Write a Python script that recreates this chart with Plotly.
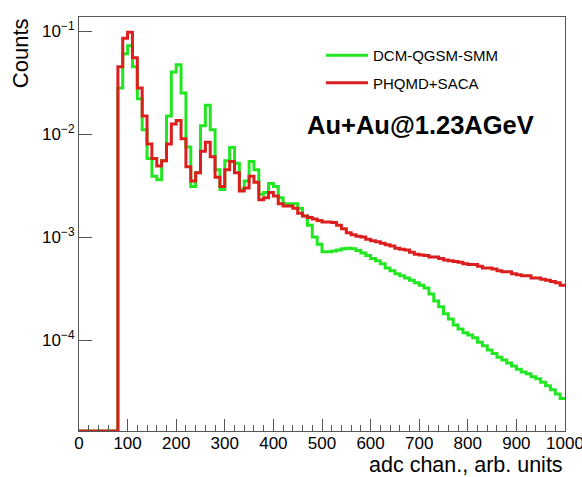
import numpy as np
import plotly.graph_objects as go

# ---- data: 10-unit bins from 0 to 1000 (left edges) ----
bin_width = 10
bin_edges = list(range(0, 1001, bin_width))

dcm_qgsm_smm = [
    0, 0, 0, 0, 0, 0, 0, 0,
    0.028, 0.060, 0.072, 0.045, 0.022, 0.011, 0.0058, 0.0039, 0.0036, 0.0055, 0.015, 0.040,
    0.047, 0.025, 0.0075, 0.0031, 0.0042, 0.012, 0.019, 0.011, 0.0045, 0.0029,
    0.0055, 0.0074, 0.0052, 0.0029, 0.0035, 0.0054, 0.0045, 0.0026, 0.0027, 0.0033,
    0.0031, 0.0024, 0.0021, 0.0021, 0.0021, 0.0019, 0.0016, 0.0013, 0.0010, 0.00085,
    0.00072, 0.00072, 0.00073, 0.00075, 0.00077, 0.00078, 0.00077, 0.00074, 0.00070, 0.00066,
    0.00062, 0.00059, 0.00055, 0.00050, 0.00047, 0.00044, 0.00042, 0.00040, 0.00038, 0.00036,
    0.00034, 0.00032, 0.00028, 0.00024, 0.00021, 0.00018, 0.00016, 0.00014, 0.000128, 0.000118,
    0.000112, 0.000105, 0.000095, 0.000088, 0.000080, 0.000074, 0.000068, 0.000064, 0.000060, 0.000056,
    0.000052, 0.000049, 0.000047, 0.000044, 0.000042, 0.000039, 0.000036, 0.000033, 0.000030, 0.000027,
]

phqmd_saca = [
    0, 0, 0, 0, 0, 0, 0, 0,
    0.045, 0.085, 0.097, 0.055, 0.028, 0.015, 0.0080, 0.0058, 0.0049, 0.0055, 0.0080, 0.0125,
    0.0135, 0.0090, 0.0048, 0.0035, 0.0042, 0.0068, 0.0083, 0.0060, 0.0038, 0.0031,
    0.0045, 0.0054, 0.0042, 0.0028, 0.0030, 0.0039, 0.0034, 0.0023, 0.0024, 0.0027,
    0.0025, 0.0021, 0.0020, 0.0020, 0.0019, 0.0017, 0.0016, 0.00155, 0.0015, 0.00145,
    0.0014, 0.0014, 0.00138, 0.0013, 0.0012, 0.0011, 0.00105, 0.00102, 0.0010, 0.00095,
    0.00092, 0.00090, 0.00087, 0.00084, 0.00082, 0.00078, 0.00076, 0.00075, 0.00071, 0.00068,
    0.00067, 0.00066, 0.00064, 0.00064, 0.00062, 0.00060, 0.00059, 0.00058, 0.00057, 0.00055,
    0.00054, 0.00054, 0.00052, 0.00050, 0.00050, 0.00049, 0.00047, 0.00046, 0.00046, 0.00044,
    0.00043, 0.00042, 0.00042, 0.00040, 0.00040, 0.00039, 0.00038, 0.00037, 0.00036, 0.00034,
]

series_names = ["DCM-QGSM-SMM", "PHQMD+SACA"]
series_colors = ["#22e622", "#dc1e1e"]

x_tick_vals = list(range(0, 1001, 100))
x_tick_text = [str(v) for v in x_tick_vals]
y_range_log = [-4.883, -0.864]
y_major = [1e-4, 1e-3, 1e-2, 1e-1]
y_major_text = ["10<sup>−4</sup>", "10<sup>−3</sup>", "10<sup>−2</sup>", "10<sup>−1</sup>"]
y_minor = [m * 10.0 ** e for e in range(-5, 0) for m in range(2, 10)]
y_minor = [v for v in y_minor if 10 ** y_range_log[0] <= v <= 10 ** y_range_log[1]]

floor_val = 10 ** y_range_log[0]


def step_xy(vals):
    xs = list(bin_edges)
    ys = [v if v > 0 else floor_val for v in vals] + [vals[-1] if vals[-1] > 0 else floor_val]
    return xs, ys


fig = go.Figure()
for i, (name, vals, col) in enumerate(zip(series_names, [dcm_qgsm_smm, phqmd_saca], series_colors)):
    xs, ys = step_xy(vals)
    fig.add_trace(go.Scatter(
        x=xs, y=ys, mode="lines", name=name, line=dict(color=col, width=3, shape="hv"),
        legendgroup=f"g{i}", showlegend=True,
    ))

axis_col = "#555555"
fig.update_layout(
    width=582, height=477,
    margin=dict(l=79, r=17, t=17, b=46, autoexpand=False),
    paper_bgcolor="white", plot_bgcolor="white",
    font=dict(family="Liberation Sans, Arial, sans-serif", color="black", size=17),
    showlegend=True,
    legend=dict(x=0.498, y=0.947, xanchor="left", yanchor="top", bgcolor="rgba(0,0,0,0)",
                font=dict(size=15), tracegroupgap=5, itemwidth=42),
    xaxis=dict(
        range=[-0.01, 1000.01], tickmode="array", tickvals=x_tick_vals, ticktext=x_tick_text,
        ticks="inside", ticklen=12, tickcolor=axis_col, ticklabeloverflow="allow", automargin=False,
        ticklabelstandoff=-3,
        showline=True, linecolor=axis_col, linewidth=1, mirror=True, showgrid=False, zeroline=False,
        minor=dict(dtick=20, ticks="inside", ticklen=6, tickcolor=axis_col, showgrid=False),
        tickfont=dict(size=17),
    ),
    yaxis=dict(
        type="log", range=y_range_log, tickmode="array", tickvals=y_major, ticktext=y_major_text,
        ticks="inside", ticklen=13, tickcolor=axis_col, automargin=False,
        showline=True, linecolor=axis_col, linewidth=1, mirror=True, showgrid=False, zeroline=False,
        tickfont=dict(size=17),
    ),
    yaxis2=dict(
        type="log", range=y_range_log, tickmode="array", tickvals=y_minor, ticks="inside", ticklen=7,
        tickcolor=axis_col, showticklabels=False, overlaying="y", anchor="x", side="left",
        showgrid=False, zeroline=False, showline=False, automargin=False,
    ),
)

fig.add_annotation(text="<b>Au+Au@1.23AGeV</b>", xref="paper", yref="paper",
                   x=0.465, y=0.739, xanchor="left", yanchor="middle", showarrow=False,
                   font=dict(size=25.5, color="black"))
fig.add_annotation(text="Counts", xref="paper", yref="paper", textangle=-90,
                   x=-0.121, y=0.913, xanchor="center", yanchor="middle", showarrow=False,
                   font=dict(size=22, color="black"))
fig.add_annotation(text="adc chan., arb. units", xref="paper", yref="paper",
                   x=1.0, y=-0.082, xanchor="right", yanchor="middle", showarrow=False,
                   font=dict(size=21.5, color="black"))

fig.write_html("out.html")
